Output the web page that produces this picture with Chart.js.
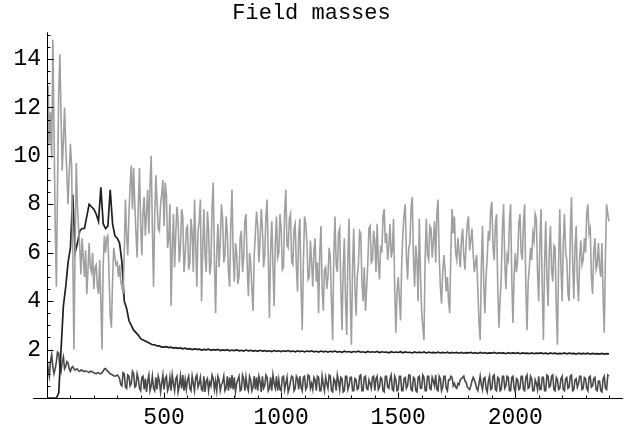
<!DOCTYPE html>
<html>
<head>
<meta charset="utf-8">
<script src="https://cdn.jsdelivr.net/npm/chart.js@4/dist/chart.umd.min.js"></script>
<style>
  html, body { margin: 0; padding: 0; background: #fff; }
  #chart-box { width: 636px; height: 430px; }
</style>
</head>
<body>
<div id="chart-box"><canvas id="chart-js-canvas" width="636" height="430"></canvas></div>
<script>
"use strict"

// the grey and dark curves are sampled every 5 steps, the black one every 10
const fineStep = 5;
const coarseStep = 10;

// light grey curve, one row = 100 steps
const greyMass = [
  7.0, 12.9, 10.5, 11.8, 9.9, 14.8, 11.0, 7.2, 4.6, 8.8, 12.6, 14.2, 11.6, 9.4, 10.6, 12.0, 10.4, 9.2, 8.0, 9.3,
  10.5, 9.6, 6.0, 2.0, 6.3, 9.7, 7.9, 7.0, 6.2, 5.1, 6.6, 5.8, 5.0, 6.1, 4.3, 5.3, 6.4, 5.4, 5.2, 6.0,
  4.5, 5.4, 5.5, 4.6, 4.3, 5.7, 4.0, 2.0, 5.5, 6.7, 6.0, 6.6, 6.7, 5.1, 3.4, 2.9, 4.8, 6.2, 5.8, 5.5,
  5.6, 5.0, 5.5, 4.8, 4.6, 4.3, 6.0, 8.2, 6.7, 5.9, 7.6, 8.8, 9.6, 7.8, 9.5, 8.0, 6.8, 5.8, 8.0, 9.5,
  7.2, 5.9, 7.7, 8.3, 6.7, 7.6, 8.6, 6.8, 8.8, 10.0, 7.0, 4.6, 7.5, 9.2, 8.1, 7.0, 6.9, 8.0, 8.4, 9.0,
  7.1, 8.9, 8.4, 6.2, 6.6, 8.0, 3.8, 6.2, 7.6, 5.4, 6.8, 7.9, 7.3, 5.6, 6.2, 7.8, 7.5, 5.2, 5.8, 7.0,
  7.1, 5.3, 5.6, 7.4, 6.8, 5.2, 8.2, 6.4, 4.6, 6.9, 7.3, 8.2, 4.0, 6.1, 7.8, 5.9, 5.2, 7.7, 7.0, 5.1,
  5.5, 7.9, 8.9, 5.7, 3.5, 6.0, 7.2, 5.4, 6.5, 8.0, 7.4, 5.6, 5.9, 7.5, 6.8, 5.2, 4.6, 7.1, 8.6, 6.0,
  4.8, 6.4, 6.0, 4.7, 5.0, 6.6, 6.9, 5.2, 5.8, 7.3, 7.6, 5.5, 4.2, 6.0, 5.6, 4.5, 3.6, 5.9, 6.8, 7.7,
  7.1, 5.6, 6.5, 7.8, 7.0, 5.4, 5.9, 7.5, 8.2, 5.8, 3.3, 6.1, 7.3, 5.5, 3.8, 6.4, 7.5, 5.8, 6.0, 7.6,
  7.0, 5.3, 5.4, 7.7, 8.6, 6.3, 6.2, 7.4, 7.6, 5.6, 5.5, 7.0, 7.2, 5.4, 4.4, 6.8, 7.4, 4.6, 2.8, 5.6,
  7.5, 7.2, 6.4, 4.9, 5.0, 6.5, 5.6, 4.6, 6.1, 6.6, 4.8, 5.6, 3.5, 6.0, 7.1, 4.6, 3.6, 5.3, 5.4, 4.5,
  5.0, 6.2, 5.8, 3.9, 2.4, 6.0, 7.5, 5.5, 5.2, 6.8, 7.0, 4.5, 2.8, 5.4, 6.6, 4.0, 2.6, 5.8, 7.4, 4.3,
  2.2, 5.4, 7.0, 4.6, 3.4, 5.0, 5.5, 6.9, 6.8, 4.8, 4.0, 5.4, 3.6, 4.5, 5.5, 7.0, 7.1, 5.6, 5.7, 6.9,
  6.5, 5.2, 7.2, 5.6, 4.9, 6.3, 6.0, 7.5, 7.8, 6.4, 6.8, 5.7, 6.3, 7.2, 5.8, 6.1, 7.4, 4.5, 2.7, 4.4,
  5.0, 4.1, 3.2, 5.6, 6.8, 7.6, 8.0, 5.9, 4.9, 6.2, 6.4, 7.9, 8.3, 5.8, 4.6, 6.3, 5.7, 4.0, 7.4, 5.1,
  3.6, 2.9, 2.4, 5.8, 7.4, 5.9, 5.7, 7.1, 7.0, 5.8, 6.5, 7.3, 5.6, 7.6, 8.2, 5.9, 4.6, 3.9, 5.2, 5.9,
  5.3, 4.4, 5.0, 4.0, 3.5, 6.1, 7.8, 6.8, 7.5, 6.0, 5.7, 6.6, 6.0, 5.4, 6.5, 7.0, 5.9, 5.3, 6.4, 7.2,
  7.5, 6.1, 6.5, 7.0, 6.0, 5.2, 5.6, 5.9, 4.5, 3.1, 2.4, 5.4, 7.1, 4.8, 3.5, 5.0, 5.8, 6.9, 6.5, 7.8,
  8.1, 6.2, 5.7, 7.2, 7.6, 4.6, 2.9, 4.0, 5.0, 7.0, 8.0, 5.6, 4.5, 5.9, 5.7, 7.3, 8.0, 4.9, 3.1, 5.1,
  6.0, 5.2, 5.7, 7.2, 7.6, 6.0, 5.7, 7.3, 8.0, 4.6, 2.8, 4.8, 5.4, 6.2, 5.7, 6.8, 6.5, 7.6, 7.4, 5.2,
  4.0, 6.4, 7.8, 4.6, 2.4, 5.5, 7.3, 5.0, 3.8, 6.0, 7.1, 5.3, 4.8, 6.3, 6.2, 3.8, 2.2, 5.6, 7.8, 5.4,
  4.0, 6.4, 7.6, 6.0, 5.7, 4.3, 4.0, 6.8, 8.3, 5.6, 4.1, 6.2, 7.1, 4.9, 4.0, 5.8, 6.5, 5.5, 5.7, 6.6,
  6.0, 7.6, 8.0, 6.8, 7.0, 5.0, 4.3, 6.0, 6.6, 5.3, 5.5, 6.4, 5.4, 5.0, 6.4, 4.2, 2.7, 5.9, 8.0, 7.6,
  7.3
];

// black curve, one row = 100 steps
const blackMass = [
  0, 0, 0, 0, 0, 0.2, 2.0, 3.8, 4.6, 5.6,
  6.2, 8.4, 6.0, 6.4, 6.9, 7.0, 7.0, 7.5, 8.0, 7.9,
  7.8, 7.6, 7.3, 8.7, 7.2, 7.0, 7.1, 8.6, 7.2, 6.7,
  6.6, 6.4, 5.6, 4.0, 3.7, 3.2, 3.0, 2.8, 2.7, 2.6,
  2.45, 2.4, 2.35, 2.3, 2.25, 2.2, 2.2, 2.15, 2.15, 2.1,
  2.1, 2.12, 2.08, 2.1, 2.06, 2.08, 2.05, 2.07, 2.03, 2.06,
  2.02, 2.04, 2.0, 2.03, 2.01, 2.02, 1.98, 2.01, 1.99, 2.02,
  1.97, 2.0, 1.98, 2.01, 1.96, 1.99, 1.97, 2.0, 1.95, 1.98,
  1.96, 1.99, 1.95, 1.97, 1.94, 1.98, 1.95, 1.97, 1.94, 1.96,
  1.93, 1.97, 1.94, 1.96, 1.93, 1.95, 1.92, 1.96, 1.93, 1.95,
  1.92, 1.95, 1.93, 1.96, 1.92, 1.94, 1.91, 1.95, 1.92, 1.94,
  1.91, 1.94, 1.92, 1.95, 1.91, 1.93, 1.9, 1.94, 1.91, 1.93,
  1.9, 1.93, 1.91, 1.94, 1.9, 1.92, 1.89, 1.93, 1.9, 1.92,
  1.89, 1.92, 1.9, 1.93, 1.89, 1.91, 1.88, 1.92, 1.89, 1.91,
  1.89, 1.92, 1.88, 1.91, 1.89, 1.9, 1.87, 1.91, 1.88, 1.9,
  1.88, 1.91, 1.87, 1.9, 1.88, 1.89, 1.86, 1.9, 1.87, 1.89,
  1.87, 1.9, 1.86, 1.89, 1.87, 1.88, 1.86, 1.89, 1.86, 1.88,
  1.86, 1.89, 1.85, 1.88, 1.86, 1.88, 1.85, 1.88, 1.85, 1.87,
  1.86, 1.88, 1.85, 1.87, 1.84, 1.88, 1.85, 1.87, 1.84, 1.86,
  1.85, 1.88, 1.84, 1.87, 1.85, 1.86, 1.83, 1.87, 1.84, 1.86,
  1.84, 1.87, 1.83, 1.86, 1.84, 1.85, 1.83, 1.86, 1.83, 1.85,
  1.84, 1.86, 1.83, 1.85, 1.82, 1.86, 1.83, 1.85, 1.82, 1.84,
  1.83, 1.86, 1.82, 1.85, 1.83, 1.84, 1.81, 1.85, 1.82, 1.84,
  1.82, 1.85, 1.81, 1.84, 1.82, 1.83, 1.81, 1.84, 1.81, 1.83,
  1.82
];

// dark grey curve at the bottom, one row = 100 steps
const darkMass = [
  1.6, 1.2, 0.9, 1.5, 1.8, 1.3, 1.0, 1.2, 1.5, 1.9, 1.85, 1.3, 1.1, 1.5, 1.7, 1.2, 1.3, 1.5, 1.45, 1.2,
  1.1, 1.25, 1.3, 1.2, 1.15, 1.2, 1.2, 1.12, 1.1, 1.15, 1.15, 1.1, 1.1, 1.12, 1.1, 1.08, 1.05, 1.1, 1.1, 1.06,
  1.05, 1.02, 1.0, 1.04, 1.05, 1.0, 1.0, 1.05, 1.1, 1.2, 1.22, 1.15, 1.1, 1.05, 1.0, 0.98, 0.95, 0.92, 0.9, 0.92,
  0.95, 0.9, 0.8, 0.55, 0.5, 1.05, 1.0, 0.45, 0.4, 0.95, 0.9, 0.5, 0.6, 1.1, 1.0, 0.45, 0.5, 1.0, 0.8, 0.4,
  0.3, 0.85, 0.9, 0.35, 0.8, 0.25, 0.7, 0.95, 0.3, 0.5, 0.9, 0.4, 0.3, 0.85, 0.35, 0.9, 0.7, 0.25, 0.6, 0.95,
  0.35, 0.8, 0.9, 0.3, 0.45, 0.85, 0.3, 0.95, 0.6, 0.3, 0.8, 0.9, 0.25, 0.5, 0.9, 0.4, 0.95, 0.3, 0.75, 0.35,
  0.75, 0.9, 0.4, 0.3, 0.9, 0.6, 0.3, 0.85, 0.95, 0.45, 0.6, 0.85, 0.35, 0.3, 0.9, 0.25, 0.7, 0.8, 0.3, 0.65,
  0.5, 0.95, 0.8, 0.35, 0.7, 0.3, 0.9, 0.75, 0.3, 0.55, 0.65, 0.9, 0.3, 0.4, 0.9, 0.3, 0.85, 0.4, 0.95, 0.35,
  0.85, 0.25, 0.6, 0.75, 0.9, 0.3, 0.35, 0.95, 0.8, 0.3, 0.85, 0.45, 0.3, 0.9, 0.75, 0.3, 0.45, 0.9, 0.35, 0.85,
  0.3, 0.9, 0.7, 0.25, 0.9, 0.4, 0.5, 0.95, 0.85, 0.3, 0.4, 0.85, 0.3, 0.95, 0.6, 0.4, 0.9, 0.3, 0.75, 0.35,
  0.3, 0.85, 0.9, 0.35, 0.6, 0.85, 0.25, 0.4, 0.7, 0.9, 0.85, 0.3, 0.4, 0.9, 0.8, 0.35, 0.9, 0.45, 0.3, 0.85,
  0.9, 0.35, 0.45, 0.95, 0.9, 0.4, 0.6, 0.35, 0.85, 0.75, 0.3, 0.9, 0.85, 0.3, 0.3, 0.9, 0.55, 0.3, 0.85, 0.6,
  0.4, 0.95, 0.9, 0.3, 0.25, 0.8, 0.7, 0.3, 0.95, 0.7, 0.35, 0.85, 0.8, 0.25, 0.3, 0.9, 0.9, 0.35, 0.5, 0.85,
  0.85, 0.3, 0.3, 0.8, 0.75, 0.35, 0.4, 0.9, 0.95, 0.3, 0.3, 0.85, 0.9, 0.4, 0.35, 0.75, 0.6, 0.4, 0.85, 0.9,
  0.3, 0.8, 0.9, 0.35, 0.45, 0.85, 0.8, 0.3, 0.25, 0.9, 0.9, 0.45, 0.4, 0.8, 0.95, 0.35, 0.3, 0.9, 0.75, 0.3,
  0.35, 0.9, 0.9, 0.3, 0.3, 0.8, 0.85, 0.4, 0.5, 0.95, 0.95, 0.35, 0.3, 0.85, 0.8, 0.3, 0.25, 0.85, 0.9, 0.4,
  0.4, 0.95, 0.85, 0.3, 0.3, 0.9, 0.9, 0.4, 0.35, 0.85, 0.7, 0.5, 0.95, 0.35, 0.3, 0.9, 0.8, 0.3, 0.45, 0.9,
  0.9, 0.4, 0.3, 0.75, 0.75, 0.9, 0.85, 0.5, 0.6, 0.45, 0.4, 0.6, 0.55, 0.75, 0.8, 0.85, 0.9, 0.7, 0.65, 0.45,
  0.4, 0.35, 0.5, 0.7, 0.85, 0.75, 0.6, 0.4, 0.3, 0.6, 0.9, 0.55, 0.35, 0.8, 0.85, 0.4, 0.25, 0.7, 0.9, 0.35,
  0.4, 0.9, 0.95, 0.35, 0.3, 0.85, 0.8, 0.3, 0.35, 0.9, 0.9, 0.4, 0.5, 0.9, 0.85, 0.3, 0.3, 0.85, 0.9, 0.4,
  0.25, 0.8, 0.75, 0.35, 0.4, 0.9, 0.9, 0.35, 0.3, 0.85, 0.95, 0.4, 0.45, 0.9, 0.8, 0.3, 0.3, 0.75, 0.6, 0.35,
  0.9, 0.35, 0.35, 0.85, 0.85, 0.3, 0.3, 0.95, 0.9, 0.45, 0.5, 0.9, 0.95, 0.35, 0.3, 0.85, 0.75, 0.35, 0.4, 0.8,
  0.9, 0.35, 0.3, 0.8, 0.85, 0.4, 0.45, 0.9, 0.95, 0.3, 0.35, 0.75, 0.8, 0.45, 0.6, 0.9, 0.9, 0.35, 0.4, 0.85,
  0.8, 0.4, 0.3, 0.85, 0.9, 0.45, 0.5, 0.8, 0.85, 0.35, 0.3, 0.7, 0.7, 0.3, 0.25, 0.8, 0.9, 0.4, 0.35, 0.95,
  0.9
];

const xTickLabels = [500, 1000, 1500, 2000];
const yTickLabels = [2, 4, 6, 8, 10, 12, 14];

const monoFont = "'Liberation Mono', 'Courier New', monospace";

function toPoints(values, step) {
  return values.map((v, i) => ({ x: i * step, y: v }));
}

// Mathematica style axes: thin lines, ticks pointing inwards
const axesPlugin = {
  id: "mmaAxes",
  afterDatasetsDraw(chart) {
    const { ctx, chartArea, scales } = chart;
    const xs = scales.x, ys = scales.y;
    const y0 = Math.round(ys.getPixelForValue(0)) + 0.5;
    const x0 = Math.round(xs.getPixelForValue(0)) + 0.5;
    ctx.save();
    ctx.strokeStyle = "#000";
    ctx.lineWidth = 1;
    ctx.beginPath();
    ctx.moveTo(xs.getPixelForValue(-60), y0);
    ctx.lineTo(chartArea.right, y0);
    ctx.moveTo(x0, y0);
    ctx.lineTo(x0, chartArea.top);
    for (let v = 100; v <= 2400; v += 100) {
      const px = Math.round(xs.getPixelForValue(v)) + 0.5;
      const len = v % 500 === 0 ? 6 : 3;
      ctx.moveTo(px, y0);
      ctx.lineTo(px, y0 - len);
    }
    for (let v = 0.5; v <= 15; v += 0.5) {
      const py = Math.round(ys.getPixelForValue(v)) + 0.5;
      const len = v % 2 === 0 ? 6 : 3;
      ctx.moveTo(x0, py);
      ctx.lineTo(x0 + len, py);
    }
    ctx.stroke();
    ctx.restore();
  }
};

const data = {
  datasets: [{
    label: "grey",
    data: toPoints(greyMass, fineStep),
    borderColor: "#a0a0a0",
    borderWidth: 1.6,
  }, {
    label: "black",
    data: toPoints(blackMass, coarseStep),
    borderColor: "#1e1e1e",
    borderWidth: 1.7,
  }, {
    label: "dark",
    data: toPoints(darkMass, fineStep),
    borderColor: "#4a4a4a",
    borderWidth: 1.6,
  }]
};

const config = {
  type: "line",
  data: data,
  plugins: [axesPlugin],
  options: {
    responsive: false,
    animation: false,
    devicePixelRatio: 1,
    layout: { padding: { left: 0, right: 13, top: 0, bottom: 0 } },
    elements: { point: { radius: 0 }, line: { tension: 0 } },
    plugins: {
      legend: { display: false },
      tooltip: { enabled: false },
      title: {
        display: true,
        text: "Field masses",
        color: "#000",
        font: { family: monoFont, size: 22, weight: "normal" },
        padding: { top: 0, bottom: 6 }
      }
    },
    scales: {
      x: {
        type: "linear",
        min: 0,
        max: 2460,
        grid: { display: false, drawTicks: false },
        border: { display: false },
        afterBuildTicks: (scale) => { scale.ticks = xTickLabels.map(v => ({ value: v })); },
        afterFit: (scale) => { scale.height = 32; },
        ticks: {
          color: "#000",
          padding: 6,
          maxRotation: 0,
          callback: (value) => String(value),
          font: { family: monoFont, size: 23 }
        }
      },
      y: {
        min: 0,
        max: 15.1,
        grid: { display: false, drawTicks: false },
        border: { display: false },
        afterBuildTicks: (scale) => { scale.ticks = yTickLabels.map(v => ({ value: v })); },
        afterFit: (scale) => { scale.width = 47; },
        ticks: {
          color: "#000",
          padding: 6,
          font: { family: monoFont, size: 23 }
        }
      }
    }
  }
};

const canvas = document.querySelector("#chart-js-canvas");
const chart = new Chart(canvas, config);
</script>
</body>
</html>
